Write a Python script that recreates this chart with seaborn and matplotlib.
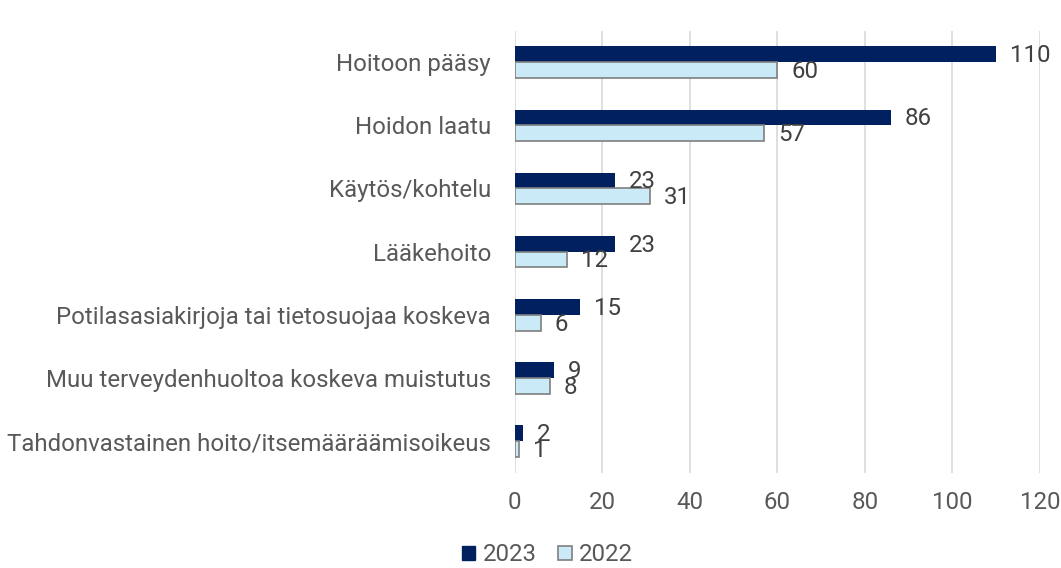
import matplotlib
matplotlib.use("Agg")
import matplotlib.pyplot as plt
import seaborn as sns
import pandas as pd
from matplotlib.patches import Patch

# data
categories = [
    "Hoitoon pääsy",
    "Hoidon laatu",
    "Käytös/kohtelu",
    "Lääkehoito",
    "Potilasasiakirjoja tai tietosuojaa koskeva",
    "Muu terveydenhuoltoa koskeva muistutus",
    "Tahdonvastainen hoito/itsemääräämisoikeus",
]
values_2023 = [110, 86, 23, 23, 15, 9, 2]
values_2022 = [60, 57, 31, 12, 6, 8, 1]
years = ["2023", "2022"]

navy = "#002060"
light = "#C9EAF6"
edge_gray = "#7F7F7F"
text_gray = "#595959"
fs = 17.3

df = pd.DataFrame({
    "category": categories * 2,
    "year": ["2023"] * len(categories) + ["2022"] * len(categories),
    "count": values_2023 + values_2022,
})

sns.set_style("white")
plt.rcParams["font.family"] = ["Roboto", "DejaVu Sans"]

fig = plt.figure(figsize=(10.61, 5.68), dpi=100)
ax = fig.add_axes([0.485, 0.168, 0.495, 0.778])

sns.barplot(data=df, y="category", x="count", hue="year", hue_order=years,
            order=categories, orient="h", width=0.5,
            palette=[navy, light], saturation=1, legend=False, ax=ax)

# gray edge on the 2022 bars only
for bar in ax.containers[1]:
    bar.set_edgecolor(edge_gray)
    bar.set_linewidth(1.2)
for bar in ax.containers[0]:
    bar.set_linewidth(0)

# value labels at the bar ends (they overlap on small bars, as in the original)
for cont, vals in zip(ax.containers, [values_2023, values_2022]):
    for bar, v in zip(cont, vals):
        y = bar.get_y() + bar.get_height() / 2
        ax.annotate(str(v), xy=(bar.get_width(), y), xytext=(10, -1),
                    textcoords="offset points", ha="left", va="center",
                    fontsize=fs, color="#404040")

ax.set_xlim(0, 120)
ax.set_xticks(range(0, 121, 20))
ax.set_ylim(6.5, -0.5)
ax.grid(axis="x", color="#D9D9D9", linewidth=1.2)
ax.set_axisbelow(True)
sns.despine(ax=ax, left=True, bottom=True)
ax.tick_params(axis="both", length=0, labelsize=fs, labelcolor=text_gray)
ax.tick_params(axis="x", pad=13)
ax.tick_params(axis="y", pad=17)
ax.set_xlabel("")
ax.set_ylabel("")

handles = [Patch(facecolor=navy, edgecolor=navy),
           Patch(facecolor=light, edgecolor=edge_gray, linewidth=1.2)]
fig.legend(handles, years, loc="lower center", bbox_to_anchor=(0.516, -0.035),
           ncol=2, frameon=False, fontsize=fs, handlelength=0.55,
           handleheight=0.55, handletextpad=0.3, columnspacing=0.9,
           labelcolor=text_gray)

fig.savefig("out.png", dpi=100)
